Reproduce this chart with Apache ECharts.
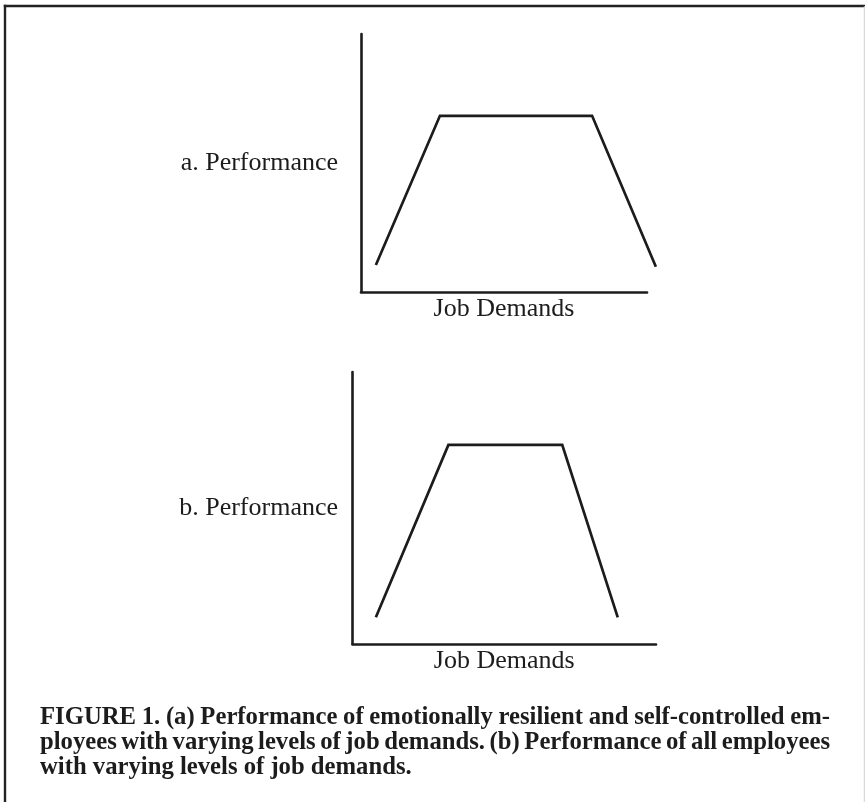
<!DOCTYPE html>
<html>
<head>
<meta charset="utf-8">
<script src="https://cdn.jsdelivr.net/npm/echarts@6/dist/echarts.min.js"></script>
<style>
html,body{margin:0;padding:0;background:#fff;}
#chart{width:865px;height:802px;}
</style>
</head>
<body>
<div id="chart"></div>
<script>
// ---- data ----
const demandA = [5.2, 27.6, 80.8, 103.1];
const perfA   = [10.5, 68.3, 68.3, 9.8];
const demandB = [7.7, 31.6, 69.1, 87.4];
const perfB   = [9.8, 73.2, 73.2, 9.8];
const yNames = ['a. Performance', 'b. Performance'];
const xName = 'Job Demands';
const captionLines = [
  'FIGURE 1. (a) Performance of emotionally resilient and self-controlled em-',
  'ployees with varying levels of job demands. (b) Performance of all employees',
  'with varying levels of job demands.'
];

const SERIF = "'Liberation Serif', 'Times New Roman', serif";
const INK = '#1c1c1c';

// caption layout (justified words)
const capSize = 24.7;
const capFont = 'bold ' + capSize + 'px ' + SERIF;
const capLeft = 40, capRight = 830;
const capMid = [718, 743, 768];
const cvs = document.createElement('canvas').getContext('2d');
cvs.font = 'bold ' + capSize + "px 'Liberation Serif'";
const capGraphics = [];
captionLines.forEach((line, i) => {
  const words = line.split(' ');
  const justify = i < captionLines.length - 1;
  const widths = words.map(w => cvs.measureText(w).width);
  const total = widths.reduce((a, b) => a + b, 0);
  const gap = justify ? (capRight - capLeft - total) / (words.length - 1) : cvs.measureText(' ').width;
  let x = capLeft;
  words.forEach((w, k) => {
    capGraphics.push({
      type: 'text', x: x, y: capMid[i],
      style: { text: w, font: capFont, fill: INK, align: 'left', verticalAlign: 'middle' }
    });
    x += widths[k] + gap;
  });
});

const axisLine = { show: true, lineStyle: { color: INK, width: 2.6 } };
const nameStyle = { fontFamily: SERIF, fontSize: 26, color: INK };
const hidden = { axisLine: { show: false }, axisTick: { show: false }, axisLabel: { show: false }, splitLine: { show: false } };

function xAx(idx) {
  return { type: 'value', gridIndex: idx, min: 0, max: 100, name: xName, nameLocation: 'middle', nameGap: 4,
    nameTextStyle: Object.assign({ verticalAlign: 'top' }, nameStyle),
    axisLine: axisLine, axisTick: { show: false }, axisLabel: { show: false }, splitLine: { show: false } };
}
function yAx(idx, gap) {
  return { type: 'value', gridIndex: idx, min: 0, max: 100, name: yNames[idx], nameLocation: 'middle', nameRotate: 0, nameGap: gap,
    nameTextStyle: nameStyle,
    axisLine: axisLine, axisTick: { show: false }, axisLabel: { show: false }, splitLine: { show: false } };
}
function seriesOf(idx, xs, ys) {
  return { type: 'line', xAxisIndex: idx, yAxisIndex: idx, clip: false, symbol: 'none', silent: true,
    lineStyle: { color: INK, width: 2.7, join: 'miter' },
    data: xs.map((x, i) => [x, ys[i]]) };
}

const chart = echarts.init(document.getElementById('chart'), null, { renderer: 'canvas' });
chart.setOption({
  animation: false,
  backgroundColor: '#fff',
  grid: [
    { left: 361, top: 34, width: 286, height: 258 },
    { left: 352.5, top: 372, width: 303.5, height: 272 },
    // plotting area for panel a, wider than its drawn axis so the falling line can run past the axis end
    { left: 361, top: 34, width: 299, height: 258 }
  ],
  xAxis: [xAx(0), xAx(1),
    Object.assign({ type: 'value', gridIndex: 2, min: 0, max: 100 * 299 / 286 }, hidden)],
  yAxis: [yAx(0, 23), yAx(1, 14.5),
    Object.assign({ type: 'value', gridIndex: 2, min: 0, max: 100 }, hidden)],
  series: [seriesOf(2, demandA, perfA), seriesOf(1, demandB, perfB)],
  graphic: [
    { type: 'line', shape: { x1: 3.8, y1: 6, x2: 865, y2: 6 }, style: { stroke: '#222', lineWidth: 2.6 } },
    { type: 'line', shape: { x1: 5, y1: 4.7, x2: 5, y2: 802 }, style: { stroke: '#222', lineWidth: 2.4 } },
    { type: 'line', shape: { x1: 864.3, y1: 6, x2: 864.3, y2: 802 }, style: { stroke: '#d0d0d0', lineWidth: 1 } }
  ].concat(capGraphics)
});
</script>
</body>
</html>
